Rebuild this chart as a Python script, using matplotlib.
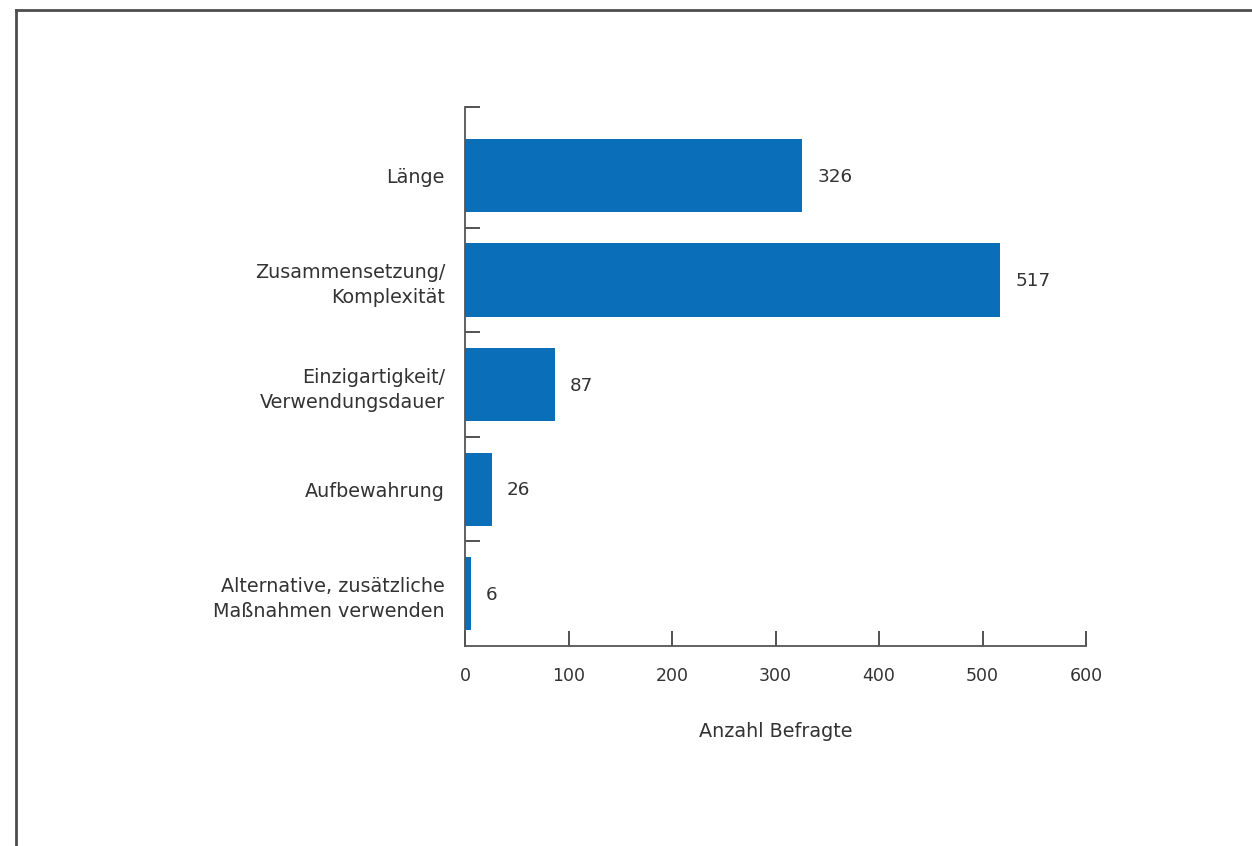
import matplotlib
matplotlib.use("Agg")
import matplotlib.pyplot as plt
from matplotlib.lines import Line2D

categories = ["Länge", "Zusammensetzung/\nKomplexität", "Einzigartigkeit/\nVerwendungsdauer",
              "Aufbewahrung", "Alternative, zusätzliche\nMaßnahmen verwenden"]
values = [326, 517, 87, 26, 6]
xticks = [0, 100, 200, 300, 400, 500, 600]
xlabel = "Anzahl Befragte"

plt.rcParams['font.family'] = ['DejaVu Sans']
FS_NUM = 12.5
FS_VAL = 13.2
FS_TXT = 13.8
W, H = 1252, 846
fig = plt.figure(figsize=(W/100, H/100), dpi=100)
ax = fig.add_axes([465/W, 1-646/H, (1086-465)/W, (646-107)/H])

bar_color = "#0b6eb8"
text_color = "#333333"
ypos = list(range(len(categories)))
ax.barh(ypos, values, height=0.70, color=bar_color)
for y, v in zip(ypos, values):
    ax.text(v + 15*600/621, y + 0.01, str(v), va="center", ha="left", fontsize=FS_VAL, color=text_color)

ax.set_xlim(0, 600)
ax.set_ylim(4.5, -0.655)
ax.set_xticks(xticks)
ax.set_xticklabels([str(t) for t in xticks])
ax.tick_params(axis="x", direction="in", length=11, width=1.3, color="#444444",
               labelsize=FS_NUM, labelcolor=text_color, pad=15)
ax.set_yticks(ypos)
ax.set_yticklabels(categories, fontsize=FS_TXT, color=text_color, linespacing=1.42)
ax.tick_params(axis="y", which="major", length=0, pad=14.4)
ax.set_yticks([-0.655, 0.5, 1.5, 2.5, 3.5], minor=True)
ax.tick_params(axis="y", which="minor", direction="in", length=11, width=1.3, color="#444444")
ax.set_xlabel(xlabel, fontsize=FS_TXT, color=text_color, labelpad=26.5)

for s in ["top", "right"]:
    ax.spines[s].set_visible(False)
for s in ["left", "bottom"]:
    ax.spines[s].set_color("#555555")
    ax.spines[s].set_linewidth(1.3)

fig.add_artist(Line2D([16/W, 16/W], [0, 1-10/H], transform=fig.transFigure, color="#4d4d4d", lw=2))
fig.add_artist(Line2D([16/W, 1], [1-10/H, 1-10/H], transform=fig.transFigure, color="#4d4d4d", lw=2))

fig.savefig("out.png", dpi=100)
